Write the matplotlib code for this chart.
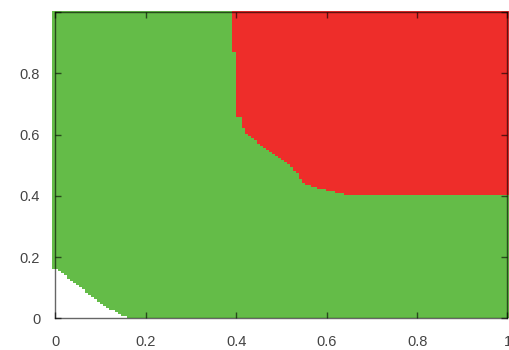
import numpy as np
import matplotlib
matplotlib.use("Agg")
import matplotlib.pyplot as plt
from matplotlib.colors import ListedColormap

# boundary of the white (empty) corner: y below this curve is white
white_x = [0.0, 0.010, 0.039, 0.078, 0.116, 0.155, 0.170]
white_y = [0.163, 0.157, 0.119, 0.075, 0.037, 0.006, 0.0]

# boundary of the red region: for each y, red starts at this x
red_y = [0.403, 0.414, 0.425, 0.444, 0.475, 0.496, 0.518, 0.545, 0.584, 0.600, 0.623, 0.654, 0.658, 0.872, 0.873, 1.0]
red_x = [0.647, 0.614, 0.578, 0.545, 0.537, 0.519, 0.500, 0.470, 0.438, 0.423, 0.415, 0.410, 0.399, 0.399, 0.393, 0.393]

ticks = [0, 0.2, 0.4, 0.6, 0.8, 1]
xtick_labels = ["0", "0.2", "0.4", "0.6", "0.8", "1"]
ytick_labels = ["0", "0.2", "0.4", "0.6", "0.8", ""]

# the raster spills a little past the frame, as in the original
x0, x1, y0, y1 = -0.0075, 1.004, -0.011, 1.003
n = 152
xs = x0 + (np.arange(n) + 0.5) * (x1 - x0) / n
ys = y0 + (np.arange(n) + 0.5) * (y1 - y0) / n
X, Y = np.meshgrid(xs, ys)

grid = np.ones_like(X)  # green
grid[Y < np.interp(X, white_x, white_y)] = 0  # white
red_start = np.interp(Y, red_y, red_x)
grid[(Y >= red_y[0]) & (X >= red_start)] = 2  # red

cmap = ListedColormap(["white", "#64bc48", "#ee2d2a"])

plt.rcParams['font.family'] = ['Liberation Sans', 'DejaVu Sans']
fig = plt.figure(figsize=(5.09, 3.5), dpi=100)
ax = fig.add_axes([0.109, 0.0906, 0.888, 0.875])

ax.imshow(grid, cmap=cmap, vmin=0, vmax=2, origin="lower", interpolation="nearest",
          aspect="auto", extent=[x0, x1, y0, y1], clip_on=False, zorder=0)

ax.set_xlim(0, 1)
ax.set_ylim(0, 1)
ax.set_xticks(ticks)
ax.set_xticklabels(xtick_labels)
ax.set_yticks(ticks)
ax.set_yticklabels(ytick_labels)
ax.tick_params(direction="in", length=4, width=1, top=True, right=True,
               labelsize=10.5, labelcolor="#444444", color=(0, 0, 0, 0.6))
ax.tick_params(axis="x", pad=12)
ax.tick_params(axis="y", pad=11)
for s in ax.spines.values():
    s.set_color((0, 0, 0, 0.6))
    s.set_linewidth(1)
    s.set_zorder(3)

fig.savefig("out.png", dpi=100)
